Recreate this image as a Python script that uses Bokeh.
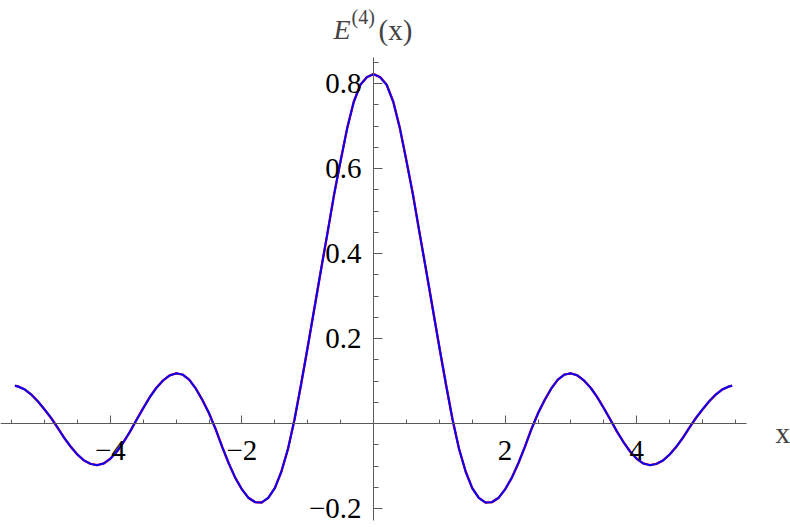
from bokeh.plotting import figure
from bokeh.models import Range1d, LinearAxis, FixedTicker, Label
from bokeh.embed import file_html
from bokeh.resources import INLINE

# ---- data ----
x_pos = [0.0, 0.1, 0.2, 0.3, 0.4, 0.5, 0.6, 0.7, 0.8, 0.9, 1.0, 1.1, 1.2, 1.3, 1.4,
         1.5, 1.6, 1.7, 1.8, 1.9, 2.0, 2.1, 2.2, 2.3, 2.4, 2.5, 2.6, 2.7, 2.8, 2.9,
         3.0, 3.1, 3.2, 3.3, 3.4, 3.5, 3.6, 3.7, 3.8, 3.9, 4.0, 4.1, 4.2, 4.3, 4.4,
         4.5, 4.6, 4.7, 4.8, 4.9, 5.0, 5.1, 5.2, 5.3, 5.4, 5.45]
y_pos = [0.822, 0.815, 0.797, 0.757, 0.695, 0.618, 0.538, 0.448, 0.360, 0.270, 0.180,
         0.093, 0.010, -0.060, -0.113, -0.152, -0.175, -0.186, -0.185, -0.175, -0.155,
         -0.128, -0.094, -0.055, -0.013, 0.024, 0.055, 0.082, 0.103, 0.115, 0.118,
         0.113, 0.101, 0.084, 0.062, 0.036, 0.009, -0.019, -0.044, -0.066, -0.083,
         -0.094, -0.098, -0.095, -0.087, -0.073, -0.055, -0.034, -0.010, 0.013, 0.033,
         0.052, 0.068, 0.080, 0.087, 0.089]
# the curve is symmetric about x = 0
x_vals = [-v for v in reversed(x_pos[1:])] + x_pos
y_vals = list(reversed(y_pos[1:])) + y_pos

x_major = [-4, -2, 2, 4]
x_major_labels = ["\u22124", "\u22122", "2", "4"]
x_minor = [-5.5, -5.0, -4.5, -3.5, -3.0, -2.5, -1.5, -1.0, -0.5,
           0.5, 1.0, 1.5, 2.5, 3.0, 3.5, 4.5, 5.0, 5.5]
y_major = [-0.2, 0.2, 0.4, 0.6, 0.8]
y_major_labels = ["\u22120.2", "0.2", "0.4", "0.6", "0.8"]
y_minor = [-0.15, -0.1, -0.05, 0.05, 0.1, 0.15, 0.25, 0.3, 0.35, 0.45, 0.5, 0.55,
           0.65, 0.7, 0.75, 0.85]

FONT = "Liberation Serif"
AXIS_COLOR = "#5a5a5a"

p = figure(width=790, height=527,
           x_range=Range1d(-5.669, 6.337), y_range=Range1d(-0.2447, 0.9953),
           x_axis_type=None, y_axis_type=None,
           min_border=0, toolbar_location=None, output_backend="svg")
p.grid.visible = False
p.outline_line_color = None
p.background_fill_color = "white"
p.border_fill_color = "white"

xaxis = LinearAxis(fixed_location=0, bounds=(-5.67, 5.67))
xaxis.ticker = FixedTicker(ticks=x_major, minor_ticks=x_minor)
xaxis.major_label_overrides = {t: s for t, s in zip(x_major, x_major_labels)}
yaxis = LinearAxis(fixed_location=0, bounds=(-0.228, 0.861))
yaxis.ticker = FixedTicker(ticks=y_major, minor_ticks=y_minor)
yaxis.major_label_overrides = {t: s for t, s in zip(y_major, y_major_labels)}

for ax in (xaxis, yaxis):
    ax.axis_line_color = AXIS_COLOR
    ax.axis_line_width = 1
    ax.major_tick_line_color = AXIS_COLOR
    ax.minor_tick_line_color = AXIS_COLOR
    ax.major_tick_out = 0
    ax.minor_tick_out = 0
    ax.major_label_text_font = FONT
    ax.major_label_text_font_size = "29px"
    ax.major_label_text_color = "black"
    ax.major_label_text_font_style = "normal"

xaxis.major_tick_in = 8
xaxis.minor_tick_in = 4
xaxis.major_label_standoff = 17
yaxis.major_tick_in = 9
yaxis.minor_tick_in = 5
yaxis.major_label_standoff = 12

p.add_layout(xaxis, "below")
p.add_layout(yaxis, "left")

p.line(x_vals, y_vals, line_color="red", line_width=2.4, line_join="round")
p.line(x_vals, y_vals, line_color="blue", line_width=2.0, line_join="round")

# title E^(4)(x) and axis label x
p.add_layout(Label(x=-0.608, y=0.927, text="E", text_font=FONT, text_font_style="italic",
                   text_font_size="28px", text_align="left", text_baseline="alphabetic"))
p.add_layout(Label(x=-0.334, y=0.957, text="(4)", text_font=FONT,
                   text_font_size="20px", text_align="left", text_baseline="alphabetic"))
p.add_layout(Label(x=0.076, y=0.927, text="(x)", text_font=FONT,
                   text_font_size="29px", text_align="left", text_baseline="alphabetic"))
p.add_layout(Label(x=6.11, y=-0.0235, text="x", text_font=FONT,
                   text_font_size="29px", text_align="left", text_baseline="alphabetic"))

open("out.html", "w").write(file_html(p, INLINE))
